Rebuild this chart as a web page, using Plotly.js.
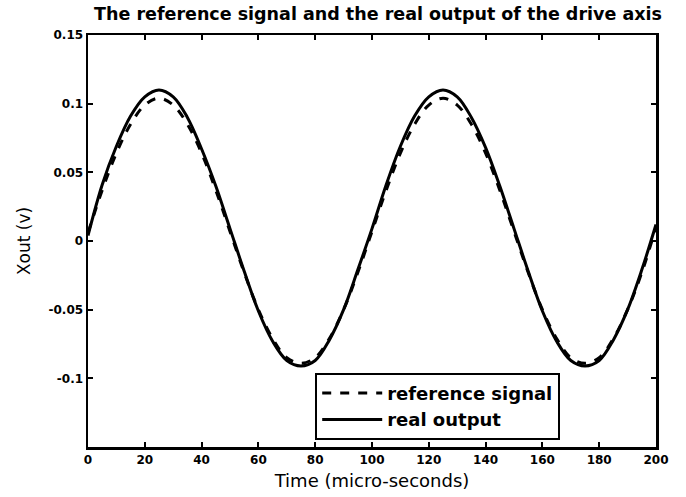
<!DOCTYPE html>
<html>
<head>
<meta charset="utf-8">
<script src="https://cdn.plot.ly/plotly-3.0.1.min.js"></script>
<style>html,body{margin:0;padding:0;background:#fff;}#chart{width:686px;height:497px;}</style>
</head>
<body>
<div id="chart"></div>
<script>
// Time axis (micro-seconds)
const time = [0,5,10,15,20,25,30,35,40,45,50,55,60,65,70,75,80,85,90,95,100,
              105,110,115,120,125,130,135,140,145,150,155,160,165,170,175,180,185,190,195,200];
// Reference signal (V)
const referenceSignal = [0.006,0.037,0.064,0.085,0.099,0.104,0.099,0.085,0.064,0.037,0.007,
                         -0.023,-0.050,-0.071,-0.085,-0.089,-0.085,-0.071,-0.050,-0.023,0.007,
                         0.037,0.064,0.085,0.099,0.104,0.099,0.085,0.064,0.037,0.007,
                         -0.023,-0.050,-0.071,-0.085,-0.089,-0.085,-0.071,-0.050,-0.023,0.010];
// Real output (V)
const realOutput = [0.004,0.041,0.069,0.091,0.105,0.110,0.105,0.090,0.067,0.040,0.009,
                    -0.022,-0.051,-0.073,-0.087,-0.091,-0.087,-0.072,-0.050,-0.021,0.009,
                    0.041,0.069,0.091,0.105,0.110,0.105,0.090,0.068,0.040,0.009,
                    -0.022,-0.051,-0.073,-0.087,-0.091,-0.087,-0.072,-0.050,-0.021,0.012];
const yTickVals = [-0.1,-0.05,0,0.05,0.1,0.15];
const yTickText = ['-0.1','-0.05','0','0.05','0.1','0.15'];
const xTickVals = [0,20,40,60,80,100,120,140,160,180,200];

const font = 'DejaVu Sans, Arial, sans-serif';
const traces = [
  {x: time, y: referenceSignal, name: 'reference signal', type: 'scatter', mode: 'lines',
   line: {color: '#000', width: 3, dash: 'dash', shape: 'spline'}},
  {x: time, y: realOutput, name: 'real output', type: 'scatter', mode: 'lines',
   line: {color: '#000', width: 3, shape: 'spline'}}
];
const axisCommon = {showline: true, linecolor: '#000', linewidth: 2.5, mirror: 'ticks',
  ticks: 'inside', ticklen: 5, tickwidth: 2, tickcolor: '#000', showgrid: false, zeroline: false,
  tickfont: {family: font, size: 12, color: '#000', weight: 'bold'}};
const layout = {
  width: 686, height: 497,
  margin: {l: 88, r: 30, t: 35, b: 50},
  paper_bgcolor: '#fff', plot_bgcolor: '#fff',
  title: {text: 'The reference signal and the real output of the drive axis',
          font: {family: font, size: 17.5, color: '#000', weight: 'bold'}, x: 0.551, xanchor: 'center', y: 0.972, yanchor: 'middle'},
  xaxis: Object.assign({}, axisCommon, {range: [0, 200], tickvals: xTickVals,
          title: {text: 'Time (micro-seconds)', font: {family: font, size: 18, color: '#000'}, standoff: 9}}),
  yaxis: Object.assign({}, axisCommon, {range: [-0.15, 0.15], tickvals: yTickVals, ticktext: yTickText,
          title: {text: 'Xout (v)', font: {family: font, size: 17, color: '#000'}, standoff: 14}}),
  showlegend: true,
  legend: {x: 0.40, y: 0.18, xanchor: 'left', yanchor: 'top', bgcolor: '#fff',
           bordercolor: '#000', borderwidth: 2, itemwidth: 60, entrywidth: 264, entrywidthmode: 'pixels',
           font: {family: font, size: 18, color: '#000', weight: 'bold'}, tracegroupgap: 0}
};
Plotly.newPlot('chart', traces, layout, {displayModeBar: false, staticPlot: true});
</script>
</body>
</html>
